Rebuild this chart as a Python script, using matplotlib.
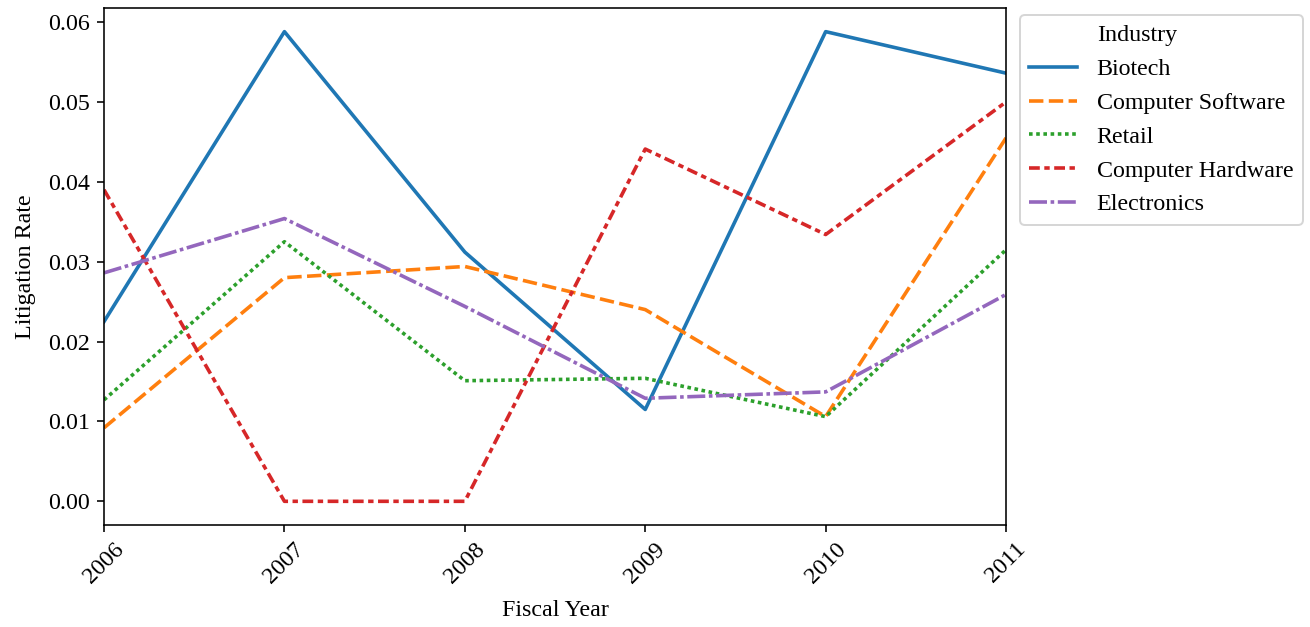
import numpy as np
import matplotlib
matplotlib.use("Agg")
import matplotlib.pyplot as plt
from matplotlib.lines import Line2D

plt.rcParams['font.family'] = ['Liberation Serif', 'DejaVu Serif']
plt.rcParams['font.size'] = 12

# Litigation rate by industry and fiscal year
years = [2006, 2007, 2008, 2009, 2010, 2011]
industries = ["Biotech", "Computer Software", "Retail", "Computer Hardware", "Electronics"]
biotech = [0.0225, 0.0588, 0.0312, 0.0115, 0.0588, 0.0536]
software = [0.0092, 0.0280, 0.0294, 0.0240, 0.0106, 0.0455]
retail = [0.0127, 0.0325, 0.0151, 0.0154, 0.0106, 0.0315]
hardware = [0.0390, 0.0, 0.0, 0.0441, 0.0334, 0.0500]
electronics = [0.0286, 0.0354, 0.0244, 0.0129, 0.0137, 0.0259]
series = [biotech, software, retail, hardware, electronics]

colors = ['#1f77b4', '#ff7f0e', '#2ca02c', '#d62728', '#9467bd']
dashes = [None, (4, 1.5), (1, 1), (3, 1.25, 1.5, 1.25), (5, 1, 1, 1)]

dpi = 144
fig, ax = plt.subplots(figsize=(1310 / dpi, 627 / dpi), dpi=dpi)
for name, vals, c, d in zip(industries, series, colors, dashes):
    line, = ax.plot(years, vals, color=c, lw=1.8, label=name)
    if d is not None:
        line.set_dashes(d)

ax.set_xlim(2006, 2011)
ax.set_xticks(years)
ax.set_xticklabels([str(y) for y in years], rotation=45)
ax.set_xlabel("Fiscal Year", labelpad=6)
ax.set_ylabel("Litigation Rate", labelpad=6)

# seaborn-style legend with the hue title as first entry
handles, labels = ax.get_legend_handles_labels()
title = Line2D([], [], color='none')
ax.legend([title] + handles, ["Industry"] + labels,
          loc='upper left', bbox_to_anchor=(1.002, 1.01), fontsize=12)

plt.subplots_adjust(left=0.0794, right=0.768, top=0.987, bottom=0.163)
fig.savefig("out.png", dpi=dpi)
